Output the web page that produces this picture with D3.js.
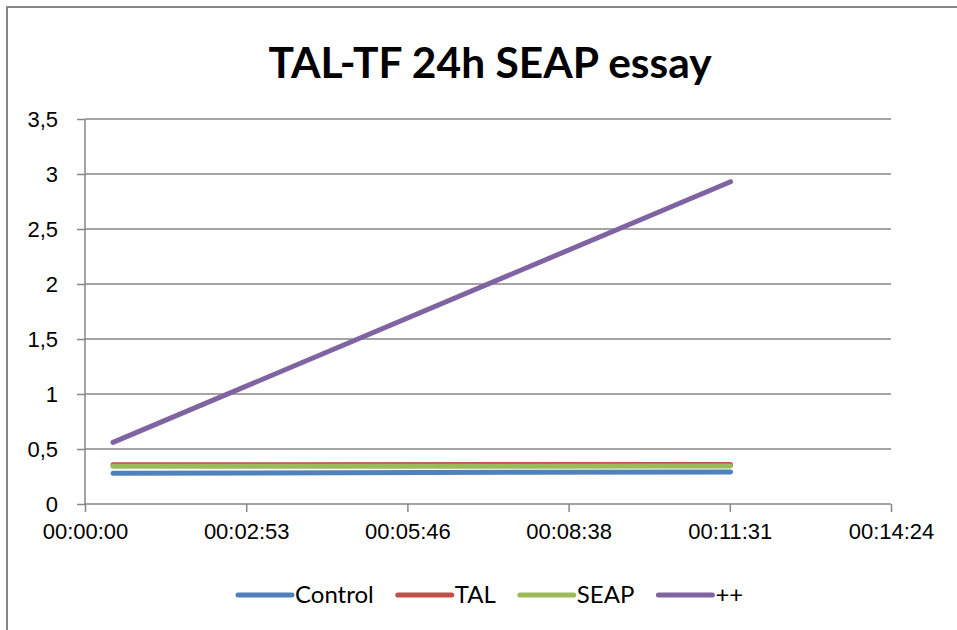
<!DOCTYPE html>
<html lang="en">
<head>
    <meta charset="utf-8"/>
    <title>TAL-TF 24h SEAP essay</title>
    <script src="https://cdn.jsdelivr.net/npm/d3@7"></script>
    <style>
        body { margin: 0; background: #fff; }
        svg { font-family: Lato, "Open Sans", sans-serif; }
        .grid line { stroke: #868686; stroke-width: 1.5px; }
        .axis path, .axis line { stroke: #868686; stroke-width: 1.5px; }
        .axis text { fill: #000; font-size: 22px; }
        .series { fill: none; stroke-width: 5px; stroke-linecap: round; stroke-linejoin: round; }
    </style>
</head>
<body>
<div class="viz"></div>
<script>
    // time values in seconds (Excel day fractions)
    var times = [30, 692];
    var seriesNames = ["Control", "TAL", "SEAP", "++"];
    var control = [0.28, 0.292];
    var tal = [0.357, 0.36];
    var seap = [0.343, 0.345];
    var plusplus = [0.56, 2.93];
    var colors = ["#4f81bd", "#c0504d", "#9bbb59", "#8064a2"];
    var yTicks = [0, 0.5, 1, 1.5, 2, 2.5, 3, 3.5];
    var xTicks = [0, 172.8, 345.6, 518.4, 691.2, 864];

    var series = [control, tal, seap, plusplus];

    var width = 957, height = 630;
    var margin = {top: 119, right: 66, bottom: 126, left: 85};

    var svg = d3.select('.viz').append('svg')
        .attr('width', width)
        .attr('height', height);

    // outer chart frame
    svg.append('rect')
        .attr('x', 7).attr('y', 7)
        .attr('width', width).attr('height', height)
        .attr('fill', '#fff')
        .attr('stroke', '#868686')
        .attr('stroke-width', 2);

    svg.append('text')
        .attr('x', 490)
        .attr('y', 78)
        .attr('text-anchor', 'middle')
        .style('font-size', '42.5px')
        .style('font-weight', 'bold')
        .text('TAL-TF 24h SEAP essay');

    var x = d3.scaleLinear()
        .domain([0, 864])
        .range([margin.left, width - margin.right]);

    var y = d3.scaleLinear()
        .domain([0, 3.5])
        .range([height - margin.bottom, margin.top]);

    function fmtTime(s) {
        s = Math.round(s);
        var h = Math.floor(s / 3600), m = Math.floor((s % 3600) / 60), sec = s % 60;
        return [h, m, sec].map(function(v) { return (v < 10 ? '0' : '') + v; }).join(':');
    }

    svg.append('g')
        .attr('class', 'grid')
        .selectAll('line')
        .data(yTicks.slice(1))
        .enter().append('line')
        .attr('x1', x(0)).attr('x2', x(864))
        .attr('y1', function(d) { return y(d); })
        .attr('y2', function(d) { return y(d); });

    var yAxis = svg.append('g')
        .attr('class', 'axis')
        .attr('transform', 'translate(' + x(0) + ',0)')
        .call(d3.axisLeft(y).tickValues(yTicks).tickSize(8).tickPadding(19)
            .tickFormat(function(d) { return String(d).replace('.', ','); }));
    yAxis.select('.domain').attr('d', 'M0,' + y(3.5) + 'V' + y(0));

    var xAxis = svg.append('g')
        .attr('class', 'axis')
        .attr('transform', 'translate(0,' + y(0) + ')')
        .call(d3.axisBottom(x).tickValues(xTicks).tickSize(8).tickPadding(11).tickFormat(fmtTime));
    xAxis.select('.domain').attr('d', 'M' + x(0) + ',0H' + x(864));

    var line = d3.line()
        .x(function(d, i) { return x(times[i]); })
        .y(function(d) { return y(d); });

    svg.append('g')
        .selectAll('path')
        .data(series)
        .enter().append('path')
        .attr('class', 'series')
        .attr('stroke', function(d, i) { return colors[i]; })
        .attr('d', line);

    // legend
    var legend = svg.append('g').attr('class', 'legend');
    var lx = 238, ly = 595;
    seriesNames.forEach(function(name, i) {
        legend.append('line')
            .attr('x1', lx).attr('x2', lx + 54)
            .attr('y1', ly).attr('y2', ly)
            .attr('stroke', colors[i])
            .attr('stroke-width', 5)
            .attr('stroke-linecap', 'round');
        var t = legend.append('text')
            .attr('x', lx + 57)
            .attr('y', ly + 8)
            .style('font-size', '24px')
            .text(name);
        lx += 57 + t.node().getComputedTextLength() + 24;
    });
</script>
</body>
</html>
